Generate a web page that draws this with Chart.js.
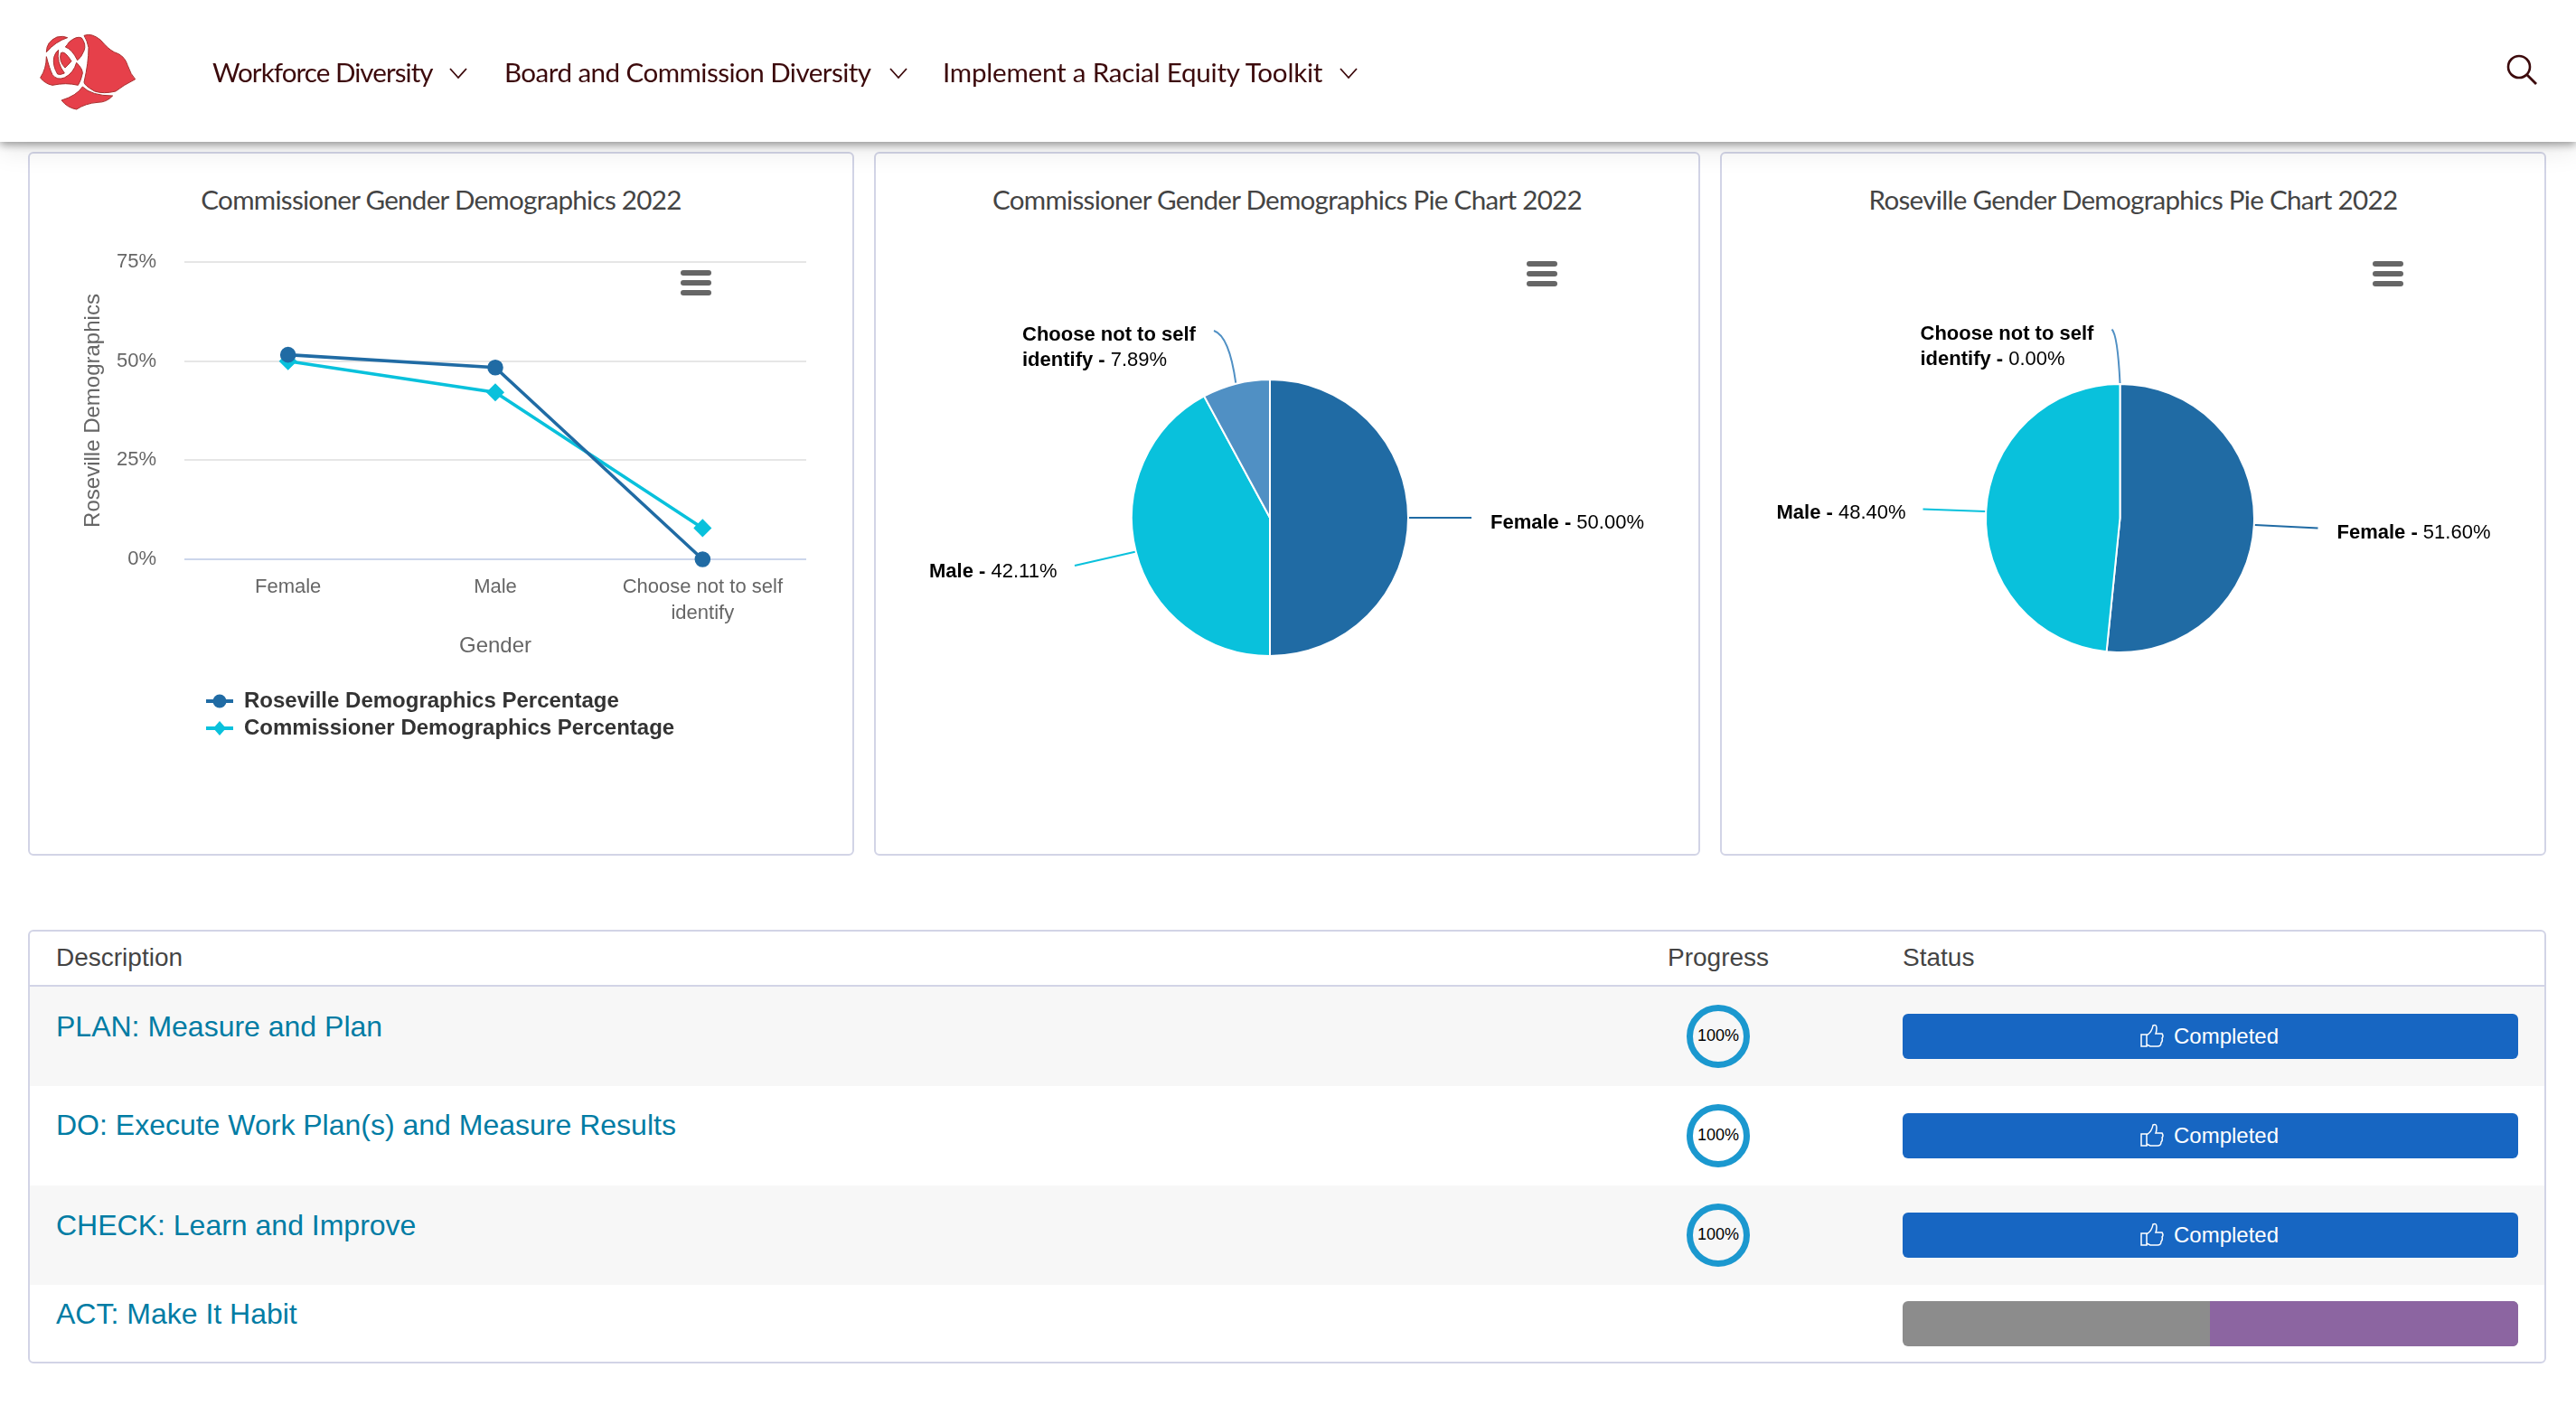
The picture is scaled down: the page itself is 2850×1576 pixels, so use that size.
<!DOCTYPE html>
<html>
<head>
<meta charset="utf-8">
<title>Commissioner Gender Demographics 2022</title>
<script src="https://cdn.jsdelivr.net/npm/chart.js@4"></script>
<style>
  html, body { margin: 0; padding: 0; background: #fff; overflow: hidden; }
  #page { position: relative; width: 2850px; height: 1576px; font-family: "Liberation Sans", Arial, sans-serif; }
  #page > * { position: absolute; }
  .nav { left: 0; top: 0; width: 2850px; height: 157px; background: #fff; z-index: 5;
         box-shadow: 0 3px 9px rgba(0,0,0,.38), 0 8px 28px rgba(0,0,0,.10); }
  .nav > * { position: absolute; }
  .navlink { top: 59px; font: 29.6px/42px Lato, sans-serif; color: #3c0a0c; white-space: nowrap; }
  .card { box-sizing: border-box; top: 168px; width: 914px; height: 779px; background: #fff;
          border: 2px solid #d2d4e6; border-radius: 6px; }
  .title { top: 200px; width: 914px; text-align: center; font: 29.6px/42px Lato, sans-serif; letter-spacing: -0.72px; color: #444; white-space: nowrap; }
  canvas { position: absolute; top: 168px; width: 914px; height: 779px; }
  .menu { width: 34px; height: 28px; z-index: 3; }
  .menu i { position: absolute; left: 0; width: 34px; height: 6px; border-radius: 3px; background: #666; }
  .table { left: 31px; top: 1029px; width: 2786px; height: 480px; box-sizing: border-box; border: 2px solid #d2d4e6; border-radius: 6px; }
  .head { font-size: 28px; line-height: 34px; color: #444; top: 1043px; }
  .stripe { left: 33px; width: 2782px; background: #f7f7f7; }
  .rule { left: 33px; width: 2782px; height: 2px; top: 1090px; background: #d2d4e6; }
  .link { left: 62px; font-size: 32px; line-height: 40px; color: #007ca4; white-space: nowrap; }
  .ring { left: 1866px; width: 70px; height: 70px; box-sizing: border-box; border: 7px solid #1b98cf; border-radius: 50%;
          font-size: 18px; line-height: 54px; text-align: center; color: #000; }
  .btn { left: 2105px; width: 681px; height: 50px; background: #1766c2; border-radius: 6px; color: #fff;
         font-size: 24px; line-height: 50px; }
  .btn span { position: absolute; left: 300px; }
  .btn svg { position: absolute; left: 263px; top: 11px; }
  .bar { left: 2105px; top: 1440px; width: 681px; height: 50px; border-radius: 6px; overflow: hidden; background: #8c8c8c; }
  .bar b { position: absolute; left: 340px; right: 0; top: 0; bottom: 0; background: #8c65a1; }
</style>
</head>
<body>
<div id="page">
  <div class="nav">
    <svg style="left:43px;top:36px" width="110" height="86" viewBox="40 30 330 258">
      <g fill="#e6404a" stroke="#a8302f" stroke-width="3" stroke-linejoin="round">
        <path d="M190 40 Q215 30 245 55 Q270 85 290 95 Q325 105 335 140 Q345 170 360 185 Q320 205 295 225 Q255 235 225 225 Q190 205 190 195 Q205 130 205 80 Q200 55 190 40Z"/>
        <path d="M185 210 Q215 240 285 240 Q265 262 235 262 Q195 265 165 285 Q135 280 115 255 Q165 240 185 210Z"/>
        <path d="M45 180 Q65 150 65 110 Q75 150 85 170 Q100 190 125 180 Q155 165 165 130 Q185 150 185 165 Q180 190 170 205 Q130 195 85 205 Q60 200 45 180Z"/>
        <path d="M65 95 Q65 60 100 45 Q120 40 135 47 Q95 60 65 95Z"/>
        <path d="M140 62 Q165 40 182 48 Q198 70 190 90 Q180 115 168 122 Q150 85 128 78 Q135 70 140 62Z"/>
        <path d="M113 98 Q125 88 148 125 Q135 140 127 147 Q105 125 113 98Z"/>
        <path d="M90 112 Q95 95 105 88 Q98 130 125 165 Q110 172 102 168 Q85 140 90 112Z"/>
      </g>
    </svg>
    <div class="navlink" style="left:235px;letter-spacing:-0.95px">Workforce Diversity</div>
    <svg style="left:497px;top:74px" width="20" height="14" viewBox="0 0 20 14"><path d="M1 2 L10 12 L19 2" fill="none" stroke="#3c0a0c" stroke-width="1.8"/></svg>
    <div class="navlink" style="left:558px;letter-spacing:-0.55px">Board and Commission Diversity</div>
    <svg style="left:984px;top:74px" width="20" height="14" viewBox="0 0 20 14"><path d="M1 2 L10 12 L19 2" fill="none" stroke="#3c0a0c" stroke-width="1.8"/></svg>
    <div class="navlink" style="left:1043px;letter-spacing:-0.22px">Implement a Racial Equity Toolkit</div>
    <svg style="left:1482px;top:74px" width="20" height="14" viewBox="0 0 20 14"><path d="M1 2 L10 12 L19 2" fill="none" stroke="#3c0a0c" stroke-width="1.8"/></svg>
    <svg style="left:2772px;top:59px" width="36" height="36" viewBox="0 0 36 36"><circle cx="15" cy="15" r="12" fill="none" stroke="#3c0a0c" stroke-width="2.6"/><path d="M24 24 L34 34" stroke="#3c0a0c" stroke-width="2.8"/></svg>
  </div>

  <div class="card" style="left:31px"></div>
  <div class="card" style="left:967px"></div>
  <div class="card" style="left:1903px"></div>
  <div class="title" style="left:31px">Commissioner Gender Demographics 2022</div>
  <div class="title" style="left:967px">Commissioner Gender Demographics Pie Chart 2022</div>
  <div class="title" style="left:1903px">Roseville Gender Demographics Pie Chart 2022</div>

  <canvas id="lineChart" width="914" height="779" style="left:31px"></canvas>
  <canvas id="commissionerPie" width="914" height="779" style="left:967px"></canvas>
  <canvas id="rosevillePie" width="914" height="779" style="left:1903px"></canvas>

  <div class="menu" style="left:753px;top:299px"><i style="top:0"></i><i style="top:11px"></i><i style="top:22px"></i></div>
  <div class="menu" style="left:1689px;top:289px"><i style="top:0"></i><i style="top:11px"></i><i style="top:22px"></i></div>
  <div class="menu" style="left:2625px;top:289px"><i style="top:0"></i><i style="top:11px"></i><i style="top:22px"></i></div>

  <div class="table"></div>
  <div class="rule"></div>
  <div class="stripe" style="top:1092px;height:110px"></div>
  <div class="stripe" style="top:1312px;height:110px"></div>
  <div class="head" style="left:62px">Description</div>
  <div class="head" style="left:1845px">Progress</div>
  <div class="head" style="left:2105px">Status</div>
  <div class="link" style="top:1116px">PLAN: Measure and Plan</div>
  <div class="link" style="top:1225px">DO: Execute Work Plan(s) and Measure Results</div>
  <div class="link" style="top:1336px">CHECK: Learn and Improve</div>
  <div class="link" style="top:1434px">ACT: Make It Habit</div>
  <div class="ring" style="top:1112px">100%</div>
  <div class="ring" style="top:1222px">100%</div>
  <div class="ring" style="top:1332px">100%</div>
  <div class="btn" style="top:1122px"><svg width="26" height="27" viewBox="0 0 26 27"><path d="M1 12 H7 V25 H1 Z M7 13 Q13 9 14 2 Q18 0 18 5 Q18 9 17 11 H24 Q26 14 24 16 Q25 19 23 21 Q23 25 19 25 H11 L7 23" fill="none" stroke="#fff" stroke-width="1.5"/></svg><span>Completed</span></div>
  <div class="btn" style="top:1232px"><svg width="26" height="27" viewBox="0 0 26 27"><path d="M1 12 H7 V25 H1 Z M7 13 Q13 9 14 2 Q18 0 18 5 Q18 9 17 11 H24 Q26 14 24 16 Q25 19 23 21 Q23 25 19 25 H11 L7 23" fill="none" stroke="#fff" stroke-width="1.5"/></svg><span>Completed</span></div>
  <div class="btn" style="top:1342px"><svg width="26" height="27" viewBox="0 0 26 27"><path d="M1 12 H7 V25 H1 Z M7 13 Q13 9 14 2 Q18 0 18 5 Q18 9 17 11 H24 Q26 14 24 16 Q25 19 23 21 Q23 25 19 25 H11 L7 23" fill="none" stroke="#fff" stroke-width="1.5"/></svg><span>Completed</span></div>
  <div class="bar"><b></b></div>
</div>

<script>
const categories = ["Female", "Male", ["Choose not to self", "identify"]];
const rosevillePct = [51.6, 48.4, 0];
const commissionerPct = [50, 42.11, 7.89];
const yTicks = [0, 25, 50, 75];
const pieLabelLines = [["Female"], ["Male"], ["Choose not to self", "identify"]];

const DARK = "#206ba4", CYAN = "#09c1dc", MID = "#5090c4";
const SANS = "Liberation Sans";

// line + marker sample for the legend, highcharts style
const legendIcon = (color, diamond) => {
    const c = document.createElement("canvas");
    c.width = 30; c.height = 24;
    const g = c.getContext("2d");
    g.fillStyle = color;
    g.fillRect(0, 10, 30, 4);
    g.beginPath();
    if (diamond) {
        g.moveTo(15, 4); g.lineTo(22, 12); g.lineTo(15, 20); g.lineTo(8, 12);
    } else {
        g.arc(15, 12, 7.5, 0, Math.PI * 2);
    }
    g.fill();
    return c;
};

const lineChart = () => {
    // the legend clips to its own box, so move all its edges
    const moveLegend = {
        id: "moveLegend",
        afterLayout(chart) {
            const lg = chart.legend;
            const w = lg.right - lg.left, h = lg.bottom - lg.top;
            lg.left = 191;
            lg.top = 590;
            lg.right = lg.left + w;
            lg.bottom = lg.top + h;
        }
    };
    new Chart(document.getElementById("lineChart"), {
        type: "line",
        plugins: [moveLegend],
        data: {
            labels: categories,
            datasets: [
                { label: "Roseville Demographics Percentage", data: rosevillePct, borderColor: DARK, backgroundColor: DARK,
                  borderWidth: 3.6, tension: 0, pointStyle: "circle", pointRadius: 7, clip: false },
                { label: "Commissioner Demographics Percentage", data: commissionerPct, borderColor: CYAN, backgroundColor: CYAN,
                  borderWidth: 3.6, tension: 0, pointStyle: "rectRot", pointRadius: 7.5, clip: false }
            ]
        },
        options: {
            responsive: false,
            animation: false,
            devicePixelRatio: 1,
            layout: { padding: { left: 60, right: 53, top: 122, bottom: 150 } },
            scales: {
                x: {
                    offset: true,
                    grid: { display: false },
                    border: { display: false },
                    afterFit: (s) => { s.height = 108; },
                    ticks: { color: "#666", font: { family: SANS, size: 22, lineHeight: 1.32 }, padding: 8, maxRotation: 0, autoSkip: false },
                    title: { display: true, text: "Gender", color: "#666", font: { family: SANS, size: 24, lineHeight: 1 }, padding: 0 }
                },
                y: {
                    min: 0,
                    max: 75,
                    afterFit: (s) => { s.width = 113; },
                    afterBuildTicks: (s) => { s.ticks = yTicks.map((value) => ({ value })); },
                    border: { display: false },
                    grid: { drawTicks: false, lineWidth: 2, color: (c) => c.tick.value === 0 ? "#ccd6eb" : "#e6e6e6" },
                    ticks: { color: "#666", font: { family: SANS, size: 22 }, padding: 31, callback: (v) => v + "%" },
                    title: { display: true, text: "Roseville Demographics", color: "#666", font: { family: SANS, size: 24, lineHeight: 1 }, padding: 0 }
                }
            },
            plugins: {
                title: { display: false },
                tooltip: { enabled: false },
                legend: {
                    position: "bottom",
                    align: "start",
                    maxWidth: 600,
                    labels: {
                        color: "#333",
                        font: { family: SANS, size: 24, weight: "bold" },
                        padding: 6,
                        usePointStyle: true,
                        pointStyleWidth: 30,
                        generateLabels: (chart) => {
                            const items = Chart.defaults.plugins.legend.labels.generateLabels(chart);
                            items[0].pointStyle = legendIcon(DARK, false);
                            items[1].pointStyle = legendIcon(CYAN, true);
                            return items;
                        }
                    }
                }
            }
        }
    });
};

// outside labels with connectors, spots are offsets from the pie center
const pieLabels = (values, spots) => ({
    id: "pieLabels",
    afterDraw(chart) {
        const ctx = chart.ctx;
        const arcs = chart.getDatasetMeta(0).data;
        arcs.forEach((arc, i) => {
            const s = spots[i];
            const mid = (arc.startAngle + arc.endAngle) / 2;
            const sx = arc.x + Math.cos(mid) * (arc.outerRadius + 1);
            const sy = arc.y + Math.sin(mid) * (arc.outerRadius + 1);
            const ex = arc.x + s.end[0], ey = arc.y + s.end[1];
            ctx.save();
            ctx.strokeStyle = chart.data.datasets[0].backgroundColor[i];
            ctx.lineWidth = 2;
            ctx.beginPath();
            ctx.moveTo(sx, sy);
            if (s.curved) {
                ctx.quadraticCurveTo(sx + (ex - sx) * 0.3, ey + (sy - ey) * 0.1, ex, ey);
            } else {
                ctx.lineTo(ex, ey);
            }
            ctx.stroke();
            ctx.fillStyle = "#000";
            ctx.textBaseline = "middle";
            const lines = pieLabelLines[i];
            lines.forEach((line, n) => {
                const y = arc.y + s.text[1] + n * 28;
                ctx.font = "bold 22px '" + SANS + "'";
                const bold = n === lines.length - 1 ? line + " - " : line;
                ctx.fillText(bold, arc.x + s.text[0], y);
                if (n === lines.length - 1) {
                    const w = ctx.measureText(bold).width;
                    ctx.font = "22px '" + SANS + "'";
                    ctx.fillText(values[i].toFixed(2) + "%", arc.x + s.text[0] + w, y);
                }
            });
            ctx.restore();
        });
    }
});

const pieChart = (id, values, padding, spots) => {
    new Chart(document.getElementById(id), {
        type: "pie",
        plugins: [pieLabels(values, spots)],
        data: {
            labels: pieLabelLines.map((l) => l.join(" ")),
            datasets: [{ data: values, backgroundColor: [DARK, CYAN, MID], borderColor: "#fff", borderWidth: 2 }]
        },
        options: {
            responsive: false,
            animation: false,
            devicePixelRatio: 1,
            layout: { padding },
            plugins: { legend: { display: false }, tooltip: { enabled: false } }
        }
    });
};

lineChart();
pieChart("commissionerPie", commissionerPct, { left: 284, right: 322, top: 251, bottom: 220 }, [
    { end: [223, 0], text: [244, 6] },
    { end: [-216, 53], text: [-377, 60] },
    { end: [-62, -207], text: [-274, -202], curved: true }
]);
pieChart("rosevillePie", rosevillePct, { left: 293, right: 322, top: 256, bottom: 224 }, [
    { end: [219, 11], text: [240, 16] },
    { end: [-218, -10], text: [-380, -6] },
    { end: [-9, -209], text: [-221, -204], curved: true }
]);
</script>
</body>
</html>
